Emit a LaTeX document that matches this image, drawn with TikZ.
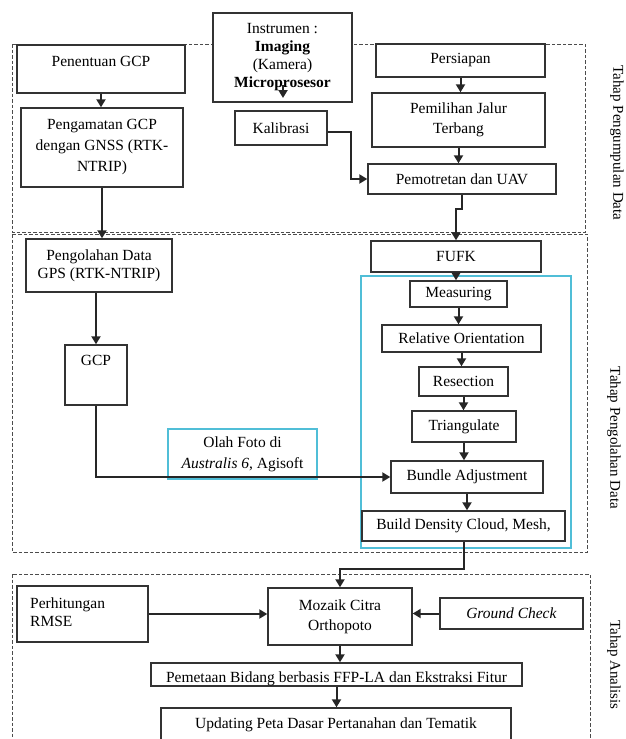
\documentclass[tikz,border=0pt]{standalone}
\usepackage{fontspec}
\setmainfont{Liberation Serif}
\usetikzlibrary{arrows.meta,calc}
\definecolor{cyanline}{RGB}{80,190,215}
\begin{document}
\begin{tikzpicture}[x=1pt,y=-1pt,
  every node/.style={font=\fontsize{15.5}{18}\selectfont},
  box/.style={draw=black!80, line width=1.4pt, fill=white, inner sep=0pt, align=center},
  cbox/.style={draw=cyanline, line width=1.1pt, inner sep=0pt, align=center},
  dbox/.style={draw=black!70, line width=1pt, dash pattern=on 3.5pt off 2pt},
  arr/.style={draw=black!85, line width=2pt, -{Triangle[length=8pt,width=9pt]}},
  side/.style={rotate=-90, inner sep=0pt, font=\fontsize{15}{18}\selectfont},
  txt/.style={inner sep=0pt, align=center}
]
\useasboundingbox (0,0) rectangle (625,739);
% stage frames
\draw[dbox] (12,44) rectangle (585,232);
\draw[dbox] (12,234) rectangle (587,552);
\draw[dbox] (12,574) rectangle (590,760);
\draw[draw=cyanline, line width=1.1pt] (361,276) rectangle (571,548);

% stage 1
\node[box, minimum width=139, minimum height=89] (instr) at (282.5,57.5) {Instrumen :\\\textbf{Imaging}\\(Kamera)\\\textbf{Microprosesor}};
\node[box, minimum width=92, minimum height=34] (kal) at (281,128) {Kalibrasi};
\node[box, minimum width=168, minimum height=48] (pen) at (101,69) {};
\node[txt] (pentxt) at (101,61) {Penentuan GCP};
\node[box, minimum width=162, minimum height=79, font=\fontsize{15.5}{21}\selectfont] (pga) at (102,147.5) {Pengamatan GCP\\dengan GNSS (RTK-\\NTRIP)};
\node[box, minimum width=169, minimum height=33] (per) at (460.5,60.5) {Persiapan};
\node[box, minimum width=173, minimum height=54, font=\fontsize{15.5}{20}\selectfont] (pjt) at (458.5,120) {Pemilihan Jalur\\Terbang};
\node[box, minimum width=188, minimum height=30] (pem) at (462,179) {Pemotretan dan UAV};

% stage 2
\node[box, minimum width=146, minimum height=53] (pgo) at (99,265.5) {Pengolahan Data\\GPS (RTK-NTRIP)};
\node[box, minimum width=62, minimum height=60] (gcp) at (96,375) {};
\node[txt] (gcptxt) at (96,360) {GCP};
\node[cbox, minimum width=149, minimum height=50, font=\fontsize{15.5}{21}\selectfont] (olah) at (242.5,454) {Olah Foto di\\\textit{Australis 6}, Agisoft};
\node[box, minimum width=170, minimum height=31] (fufk) at (456,256.5) {FUFK};
\node[box, minimum width=97, minimum height=26] (mea) at (458.5,294) {Measuring};
\node[box, minimum width=159, minimum height=27] (rel) at (461.5,338.5) {Relative Orientation};
\node[box, minimum width=89, minimum height=29] (res) at (463.5,381.5) {Resection};
\node[box, minimum width=104, minimum height=31] (tri) at (464,426.5) {Triangulate};
\node[box, minimum width=152, minimum height=32] (bun) at (467,477) {Bundle Adjustment};
\node[box, minimum width=203, minimum height=30] (bld) at (463.5,526) {Build Density Cloud, Mesh,};

% stage 3
\node[box, minimum width=131, minimum height=56] (rmse) at (82.5,614) {};
\node[txt, anchor=west, align=left] (rmsetxt) at (30,612) {Perhitungan\\RMSE};
\node[box, minimum width=144, minimum height=57, font=\fontsize{15.5}{20}\selectfont] (moz) at (340,616.5) {Mozaik Citra\\Orthopoto};
\node[box, minimum width=143, minimum height=31] (gc) at (511.5,613.5) {\textit{Ground Check}};
\node[box, minimum width=371, minimum height=23] (pmt) at (336.5,674.5) {};
\node[txt, anchor=base] (pmttxt) at (336.5,682) {Pemetaan Bidang berbasis FFP-LA dan Ekstraksi Fitur};
\node[box, minimum width=350, minimum height=34] (upd) at (336,725) {Updating Peta Dasar Pertanahan dan Tematik};

% side labels
\node[side] (l1) at (617,143) {Tahap Pengumpulan Data};
\node[side] (l2) at (614,438) {Tahap Pengolahan Data};
\node[side] (l3) at (614,665) {Tahap Analisis};

% connectors
\coordinate (ia) at (283,85);
\coordinate (ib) at (283,98);
\draw[arr] (ia) -- (ib);
\draw[arr] (pen.south) -- (pen.south |- pga.north);
\draw[arr] (pga.south) -- (pga.south |- pgo.north);
\draw[arr] (per.south) -- (per.south |- pjt.north);
\draw[arr] (pjt.south) -- (pjt.south |- pem.north);
\draw[arr] ([yshift=-4pt]kal.east) -- ++(23,0) |- (pem.west);
\draw[arr] (pem.south) -- ++(0,14) -| (fufk.north);
\draw[arr] (pgo.south -| gcp.north) -- (gcp.north);
\draw[arr] (gcp.south) |- (bun.west);
\draw[arr] (fufk.south) -- (fufk.south |- mea.north);
\draw[arr] (mea.south) -- (mea.south |- rel.north);
\draw[arr] (rel.south) -- (rel.south |- res.north);
\draw[arr] (res.south) -- (res.south |- tri.north);
\draw[arr] (tri.south) -- (tri.south |- bun.north);
\draw[arr] (bun.south) -- (bun.south |- bld.north);
\draw[arr] (bld.south) -- ++(0,27) -| (moz.north);
\draw[arr] (rmse.east) -- (rmse.east -| moz.west);
\draw[arr] (gc.west) -- (gc.west -| moz.east);
\draw[arr] (moz.south) -- (moz.south |- pmt.north);
\draw[arr] (pmt.south) -- (pmt.south |- upd.north);
\end{tikzpicture}
\end{document}
